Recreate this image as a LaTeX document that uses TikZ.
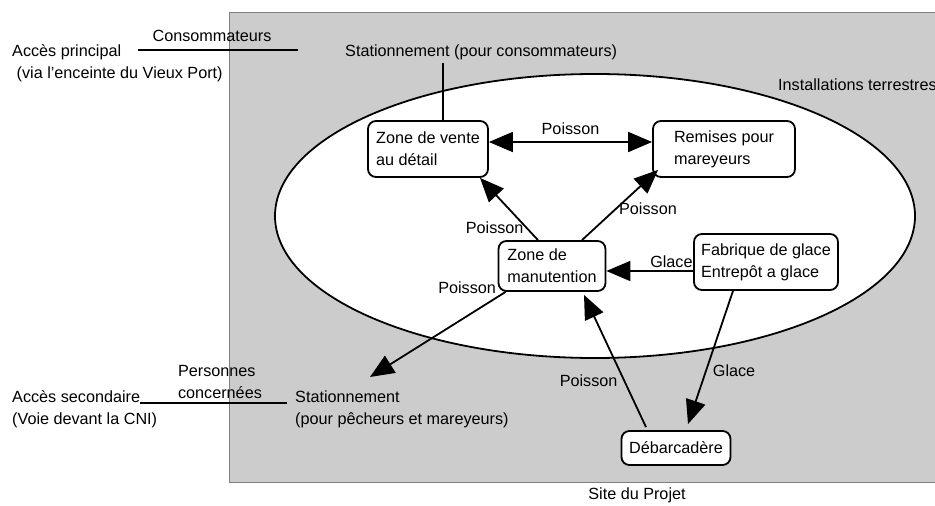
\documentclass[tikz,border=0pt]{standalone}
\usepackage{fontspec}
\setmainfont{Liberation Sans}
\usetikzlibrary{arrows.meta}
\begin{document}
\begin{tikzpicture}[x=1pt,y=-1pt,font=\fontsize{16.2}{22}\selectfont,
box/.style={draw, line width=1.8pt, rounded corners=8pt, fill=white, align=left, inner xsep=6pt, inner ysep=3pt},
txt/.style={inner sep=0pt, align=left},
link/.style={line width=1.8pt},
flow/.style={line width=1.8pt, -{Triangle[length=24pt,width=20pt]}},
lbl/.style={inner sep=2pt}]
\useasboundingbox (0,0) rectangle (935,506);
\fill[gray!40] (229,12) rectangle (935,482);
\draw[gray, line width=0.8pt] (935,12) -- (229,12) -- (229,482) -- (935,482);
\draw[line width=1.8pt, fill=white] (595,216) ellipse [x radius=320, y radius=142];
% main blocks
\node[box, minimum width=120pt, minimum height=56pt] (vente) at (428,149) {Zone de vente\\au détail};
\node[box, minimum width=142pt, minimum height=56pt] (remises) at (724,149) {Remises pour\\mareyeurs};
\node[box, minimum width=107pt, minimum height=50pt] (manut) at (552,266) {Zone de\\manutention};
\node[box, minimum width=144pt, minimum height=56pt] (glace) at (766,262) {Fabrique de glace\\Entrepôt a glace};
\node[box, minimum width=109pt, minimum height=34pt] (debarc) at (676,448) {Débarcadère};
% texts
\node[txt, anchor=west] (accp) at (12,63) {Accès principal\\\ (via l'enceinte du Vieux Port)};
\node[txt] (conso) at (212,36) {Consommateurs};
\node[txt, anchor=west] (statc) at (345,52) {Stationnement (pour consommateurs)};
\node[txt, anchor=west] (instal) at (778,85) {Installations terrestres};
\node[txt, anchor=west] (accs) at (12,409) {Accès secondaire\\(Voie devant la CNI)};
\node[txt] (pers) at (220,382) {Personnes\\concernées};
\node[txt, anchor=west] (statp) at (295,409) {Stationnement\\(pour pêcheurs et mareyeurs)};
\node[txt] (site) at (637,495) {Site du Projet};
\coordinate (c1) at (138,50);
\coordinate (c2) at (298,50);
\coordinate (c3) at (140,403);
\coordinate (c4) at (287,403);
\coordinate (c5) at (370,377);
% connectors
\draw[link] (c1) -- (c2);
\draw[link] (c3) -- (c4);
\draw[link] ([xshift=15pt]vente.north) -- ++(0,-57);
\draw[flow, {Triangle[length=24pt,width=20pt]}-{Triangle[length=24pt,width=20pt]}] ([yshift=7pt]vente.east) -- node[lbl, above=4pt] {Poisson} ([yshift=7pt]remises.west);
\draw[flow] ([xshift=-14pt]manut.north) -- node[lbl, pos=.2, left] {Poisson} ([xshift=52pt]vente.south);
\draw[flow] ([xshift=30pt]manut.north) -- node[lbl, pos=.45, right] {Poisson} ([xshift=6pt,yshift=8pt]remises.south west);
\draw[flow] ([yshift=-9pt]glace.west) -- node[lbl, pos=.25, above] {Glace} ([yshift=-9pt]glace.west -| manut.east);
\draw[flow] ([xshift=-33pt]glace.south) -- node[lbl, pos=.6, right=4pt] {Glace} ([xshift=12pt,yshift=6pt]debarc.north);
\draw[flow] ([xshift=-30pt,yshift=3pt]debarc.north) -- node[lbl, pos=.35, left=4pt] {Poisson} ([xshift=32pt,yshift=-3pt]manut.south);
\draw[flow] ([xshift=8pt]manut.south west) -- node[lbl, pos=.05, above left] {Poisson} (c5);
\end{tikzpicture}
\end{document}
